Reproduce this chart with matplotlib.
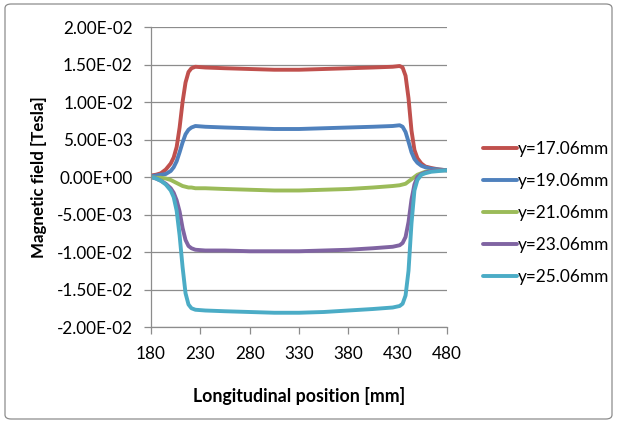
import matplotlib
matplotlib.use("Agg")
import matplotlib.pyplot as plt
from matplotlib.ticker import FuncFormatter
from matplotlib.patches import FancyBboxPatch

x_mm = [180, 185, 190, 195, 200, 203, 206, 209, 212, 215, 218, 221, 225, 235, 255, 280, 305,
        330, 355, 380, 405, 425, 432, 435, 438, 441, 444, 447, 450, 454, 458, 464, 472, 480]

y17 = [0.0002, 0.0003, 0.0005, 0.0010, 0.0018, 0.0026, 0.0040, 0.0066, 0.0100, 0.0126, 0.0140,
       0.0145, 0.0147, 0.0146, 0.0145, 0.0144, 0.0143, 0.0143, 0.0144, 0.0145, 0.0146, 0.0147,
       0.0148, 0.0146, 0.0135, 0.0105, 0.0062, 0.0036, 0.0025, 0.0018, 0.0014, 0.0012, 0.0010,
       0.0009]
y19 = [0.0001, 0.0002, 0.0003, 0.0004, 0.0008, 0.0013, 0.0021, 0.0033, 0.0046, 0.0057, 0.0063,
       0.0066, 0.0068, 0.0067, 0.0066, 0.0065, 0.0064, 0.0064, 0.0065, 0.0066, 0.0067, 0.0068,
       0.0069, 0.0067, 0.0060, 0.0047, 0.0033, 0.0024, 0.0019, 0.0015, 0.0013, 0.0011, 0.0010,
       0.0009]
y21 = [0.0000, -0.0001, -0.0001, -0.0002, -0.0004, -0.0006, -0.0008, -0.0010, -0.0012, -0.0013,
       -0.0014, -0.0014, -0.0015, -0.0015, -0.0016, -0.0017, -0.0018, -0.0018, -0.0017, -0.0016,
       -0.0014, -0.0012, -0.0011, -0.0010, -0.0009, -0.0006, -0.0003, 0.0000, 0.0003, 0.0005,
       0.0007, 0.0008, 0.0009, 0.0009]
y23 = [0.0000, -0.0002, -0.0005, -0.0009, -0.0015, -0.0021, -0.0031, -0.0046, -0.0068, -0.0084,
       -0.0092, -0.0095, -0.0097, -0.0098, -0.0098, -0.0099, -0.0099, -0.0099, -0.0098, -0.0097,
       -0.0095, -0.0093, -0.0091, -0.0088, -0.0080, -0.0060, -0.0030, -0.0010, 0.0000, 0.0004,
       0.0006, 0.0008, 0.0009, 0.0009]
y25 = [0.0000, -0.0002, -0.0005, -0.0010, -0.0018, -0.0027, -0.0045, -0.0078, -0.0120, -0.0155,
       -0.0170, -0.0175, -0.0177, -0.0178, -0.0179, -0.0180, -0.0181, -0.0181, -0.0180, -0.0178,
       -0.0176, -0.0174, -0.0172, -0.0169, -0.0158, -0.0125, -0.0062, -0.0018, -0.0004, 0.0003,
       0.0005, 0.0007, 0.0008, 0.0009]

series = [y17, y19, y21, y23, y25]
labels = ["y=17.06mm", "y=19.06mm", "y=21.06mm", "y=23.06mm", "y=25.06mm"]
colors = ["#C0504D", "#4F81BD", "#9BBB59", "#8064A2", "#4BACC6"]

x_ticks = [180, 230, 280, 330, 380, 430, 480]
y_ticks = [-0.02, -0.015, -0.01, -0.005, 0.0, 0.005, 0.01, 0.015, 0.02]

plt.rcParams['font.family'] = ['Lato', 'DejaVu Sans']

W, H = 619, 424
fig = plt.figure(figsize=(W / 100, H / 100), dpi=100)

# outer chart border
border = FancyBboxPatch((5 / W, 5 / H), 607 / W, 415 / H,
                        boxstyle="round,pad=0,rounding_size=0.01",
                        transform=fig.transFigure, fill=False,
                        edgecolor="#8C8C8C", linewidth=0.9)
fig.patches.append(border)

ax = fig.add_axes([151 / W, 1 - 327 / H, 296 / W, 300 / H])
for ys, lab, c in zip(series, labels, colors):
    ax.plot(x_mm, ys, color=c, linewidth=2.8, label=lab,
            solid_capstyle='round', solid_joinstyle='round')

ax.set_xlim(180, 480)
ax.set_ylim(-0.02, 0.02)
ax.set_xticks(x_ticks)
ax.set_yticks(y_ticks)

def fmt(v, pos):
    s = "%.2E" % v
    if abs(v) < 1e-12:
        s = "0.00E+00"
    return s

ax.yaxis.set_major_formatter(FuncFormatter(fmt))
ax.grid(axis='y', color="#8C8C8C", linewidth=0.9)
ax.set_axisbelow(True)
for side in ["top", "right"]:
    ax.spines[side].set_visible(False)
for side in ["left", "bottom"]:
    ax.spines[side].set_color("#8C8C8C")
    ax.spines[side].set_linewidth(0.9)
ax.tick_params(axis='both', direction='out', length=5, width=0.9, color="#8C8C8C",
               labelsize=12.3, labelcolor="black")
ax.tick_params(axis='y', pad=8)
ax.tick_params(axis='x', pad=9)

ax.set_ylabel("Magnetic field [Tesla]", fontsize=12.2, fontweight='bold', labelpad=7)
ax.set_xlabel("Longitudinal position [mm]", fontsize=12.8, fontweight='bold', labelpad=18)

leg = fig.legend(loc='center left', bbox_to_anchor=(483 / W, 1 - 213 / H),
                 frameon=False, fontsize=12.4, handlelength=1.95, handletextpad=0.08,
                 labelspacing=0.92, borderpad=0, borderaxespad=0)

fig.savefig("out.png", dpi=100)
